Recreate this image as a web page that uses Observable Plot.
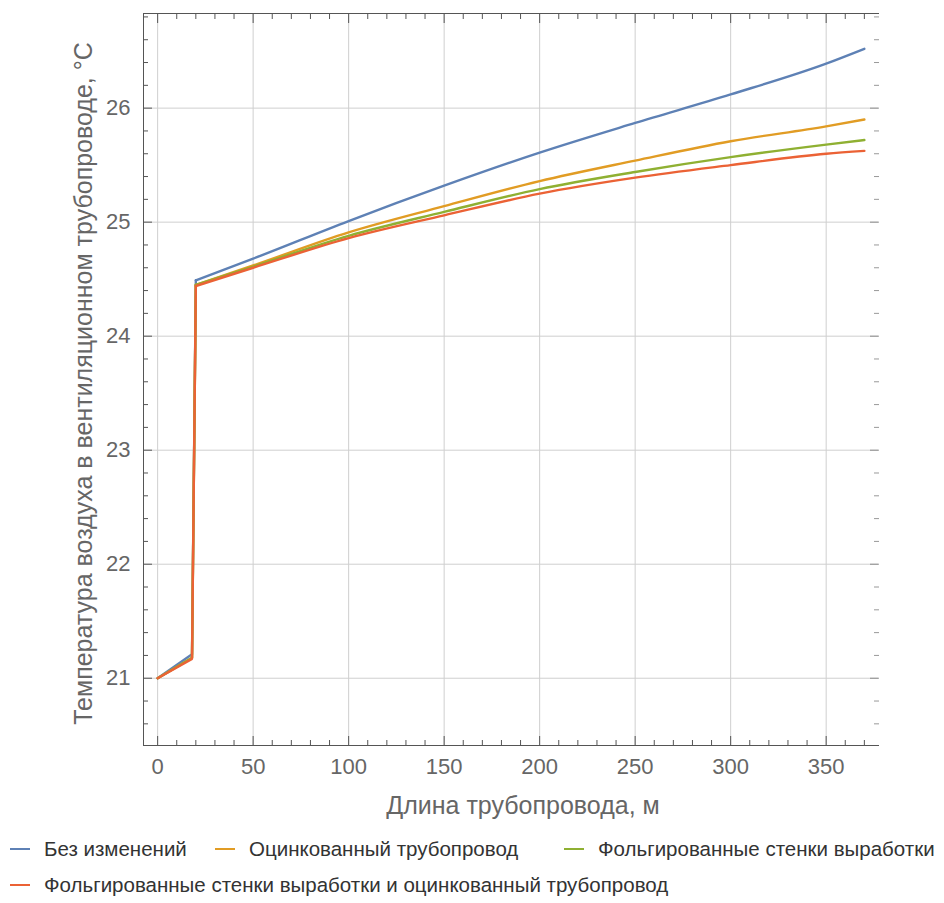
<!DOCTYPE html>
<html>
<head>
<meta charset="utf-8">
<script src="https://cdn.jsdelivr.net/npm/d3@7"></script>
<script src="https://cdn.jsdelivr.net/npm/@observablehq/plot@0.6"></script>
<style>
  body { margin: 0; background: #fff; }
  #chart svg { display: block; }
  .legend { font-family: "Liberation Sans", Arial, sans-serif; font-size: 20.5px; color: #333; position: relative; height: 78px; }
  .legend .item { position: absolute; display: flex; align-items: center; white-space: nowrap; }
  .legend .sw { display: inline-block; width: 20px; height: 2px; margin-right: 14px; }
</style>
</head>
<body>
<div id="chart"></div>
<div class="legend" id="legend"></div>
<script>
// Pipe length along the ventilation duct, m
const lengths = [0, 18, 20, 50, 100, 150, 200, 250, 300, 350, 370];

// Air temperature in the duct, °C, for each scenario
const tempBase     = [21.0, 21.21, 24.49, 24.68, 25.01, 25.32, 25.61, 25.87, 26.12, 26.39, 26.52];
const tempGalv     = [21.0, 21.18, 24.45, 24.62, 24.91, 25.14, 25.36, 25.54, 25.71, 25.84, 25.90];
const tempFoil     = [21.0, 21.18, 24.45, 24.61, 24.88, 25.09, 25.29, 25.44, 25.57, 25.68, 25.72];
const tempFoilGalv = [21.0, 21.17, 24.44, 24.60, 24.86, 25.06, 25.25, 25.39, 25.50, 25.60, 25.625];

const seriesNames = [
  "Без изменений",
  "Оцинкованный трубопровод",
  "Фольгированные стенки выработки",
  "Фольгированные стенки выработки и оцинкованный трубопровод"
];
const seriesColors = ["#5E81B5", "#E19C24", "#8FB032", "#EB6235"];

const xLabel = "Длина трубопровода, м";
const yLabel = "Температура воздуха в вентиляционном трубопроводе, °C";

const xMajor = [0, 50, 100, 150, 200, 250, 300, 350];
const xMinor = d3.range(0, 371, 10).filter(v => v % 50 !== 0);
const yMajor = [21, 22, 23, 24, 25, 26];
const yMinor = d3.range(20.6, 26.81, 0.2).map(v => +v.toFixed(1)).filter(v => Math.abs(v - Math.round(v)) > 1e-6);

// The entry section (up to the jump) is drawn straight; the rest is smoothed.
const seriesValues = [tempBase, tempGalv, tempFoil, tempFoilGalv];
const entryRows = seriesValues.flatMap((vals, i) =>
  vals.slice(0, 3).map((t, j) => ({series: seriesNames[i], x: lengths[j], t}))
);
const mainRows = seriesValues.flatMap((vals, i) =>
  vals.slice(2).map((t, j) => ({series: seriesNames[i], x: lengths[j + 2], t}))
);

const frameColor = "#555";
const textColor = "#666";
const fontFamily = '"Liberation Sans", Arial, sans-serif';

const chart = Plot.plot({
  width: 944,
  height: 825,
  marginLeft: 143,
  marginRight: 66,
  marginTop: 13,
  marginBottom: 80,
  style: {fontFamily, fontSize: "22px", color: textColor, background: "#fff"},
  x: {domain: [-7.4, 377.4]},
  y: {domain: [20.41, 26.83]},
  color: {domain: seriesNames, range: seriesColors},
  marks: [
    Plot.gridX(xMajor, {stroke: "#cfcfcf", strokeOpacity: 1, strokeWidth: 1}),
    Plot.gridY(yMajor, {stroke: "#cfcfcf", strokeOpacity: 1, strokeWidth: 1}),
    // bottom axis: inward ticks and labels
    Plot.axisX(xMinor, {anchor: "bottom", tickSize: -5, text: null, stroke: frameColor, label: null}),
    Plot.axisX(xMajor, {anchor: "bottom", tickSize: -9, tickPadding: 22, fill: textColor, stroke: frameColor,
      tickFormat: d3.format("d"), label: null, fontSize: 22}),
    // top axis: ticks only
    Plot.axisX(xMinor, {anchor: "top", tickSize: -5, text: null, stroke: frameColor, label: null}),
    Plot.axisX(xMajor, {anchor: "top", tickSize: -9, text: null, stroke: frameColor, label: null}),
    // left axis
    Plot.axisY(yMinor, {anchor: "left", tickSize: -5, text: null, stroke: frameColor, label: null}),
    Plot.axisY(yMajor, {anchor: "left", tickSize: -9, tickPadding: 22, fill: textColor, stroke: frameColor,
      tickFormat: d3.format("d"), label: null, fontSize: 22}),
    // right axis: ticks only
    Plot.axisY(yMinor, {anchor: "right", tickSize: -5, text: null, stroke: frameColor, strokeOpacity: 0.6, label: null}),
    Plot.axisY(yMajor, {anchor: "right", tickSize: -9, text: null, stroke: frameColor, strokeOpacity: 0.6, label: null}),
    Plot.frame({anchor: "bottom", stroke: frameColor}),
    Plot.frame({anchor: "left", stroke: frameColor}),
    Plot.frame({anchor: "top", stroke: frameColor}),
    // axis titles
    Plot.text([xLabel], {frameAnchor: "bottom", dx: 12, dy: 60, text: d => d, fontSize: 25, fill: textColor, lineAnchor: "middle"}),
    Plot.text([yLabel], {frameAnchor: "left", dx: -60, dy: 4, rotate: -90, text: d => d, fontSize: 25, fill: textColor,
      textAnchor: "middle", lineAnchor: "middle"}),
    // temperature profiles
    Plot.line(entryRows, {x: "x", y: "t", z: "series", stroke: "series", strokeWidth: 2.4, curve: "linear"}),
    Plot.line(mainRows, {x: "x", y: "t", z: "series", stroke: "series", strokeWidth: 2.4, curve: "monotone-x"})
  ]
});
document.getElementById("chart").appendChild(chart);

// Legend below the chart
const legendPos = [
  {left: 10, top: 12},
  {left: 215, top: 12},
  {left: 564, top: 12},
  {left: 10, top: 48}
];
const legend = document.getElementById("legend");
seriesNames.forEach((name, i) => {
  const item = document.createElement("div");
  item.className = "item";
  item.style.left = legendPos[i].left + "px";
  item.style.top = legendPos[i].top + "px";
  const sw = document.createElement("span");
  sw.className = "sw";
  sw.style.background = seriesColors[i];
  const label = document.createElement("span");
  label.textContent = name;
  item.appendChild(sw);
  item.appendChild(label);
  legend.appendChild(item);
});
</script>
</body>
</html>
